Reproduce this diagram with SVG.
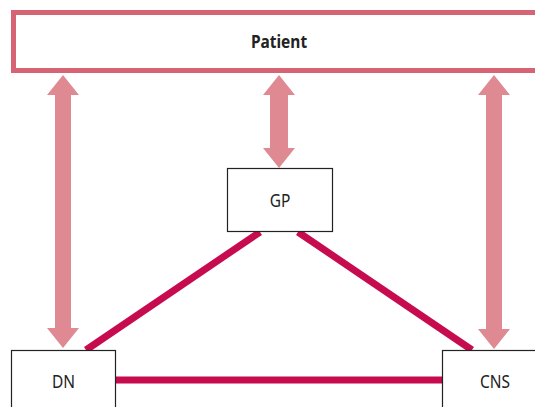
<svg xmlns="http://www.w3.org/2000/svg" width="535" height="407" viewBox="0 0 535 407">
  <style>
    .box { fill: #ffffff; stroke: #222222; stroke-width: 1.2; }
    .label { font-family: "Noto Sans", "Open Sans", sans-serif; font-size: 18px; fill: #222222; text-anchor: middle; dominant-baseline: central; }
    .bold { font-weight: bold; }
    .link { stroke: #c70b4f; stroke-width: 7; fill: none; }
    .flow { fill: #df8a93; }
  </style>
  <rect width="535" height="407" fill="#ffffff"/>

  <g id="connectors">
    <line class="link" x1="260" y1="232" x2="86" y2="350"/>
    <line class="link" x1="298" y1="232" x2="472" y2="350"/>
    <line class="link" x1="116" y1="380" x2="442" y2="380"/>
    <!-- Patient <-> DN -->
    <polygon class="flow" points="63,75 79,95 71,95 71,328 79,328 63,348 47,328 55,328 55,95 47,95"/>
    <!-- Patient <-> GP -->
    <polygon class="flow" points="279,75 295,95 288,95 288,148 295,148 279,168 263,148 270,148 270,95 263,95"/>
    <!-- Patient <-> CNS -->
    <polygon class="flow" points="494,75 510,95 502,95 502,329 510,329 494,349 478,329 486,329 486,95 478,95"/>
  </g>

  <g id="patient">
    <rect x="13.5" y="12.5" width="540" height="58" fill="#ffffff" stroke="#d66475" stroke-width="5"/>
    <text class="label bold" transform="translate(279,41) scale(0.86,1)">Patient</text>
  </g>

  <g id="gp">
    <rect class="box" x="227.5" y="168.5" width="105" height="63"/>
    <text class="label" transform="translate(280,200) scale(0.86,1)">GP</text>
  </g>

  <g id="dn">
    <rect class="box" x="11.5" y="350.5" width="104" height="70"/>
    <text class="label" transform="translate(63.5,381) scale(0.86,1)">DN</text>
  </g>

  <g id="cns">
    <rect class="box" x="442.5" y="350.5" width="110" height="70"/>
    <text class="label" transform="translate(495,381) scale(0.86,1)">CNS</text>
  </g>
</svg>
